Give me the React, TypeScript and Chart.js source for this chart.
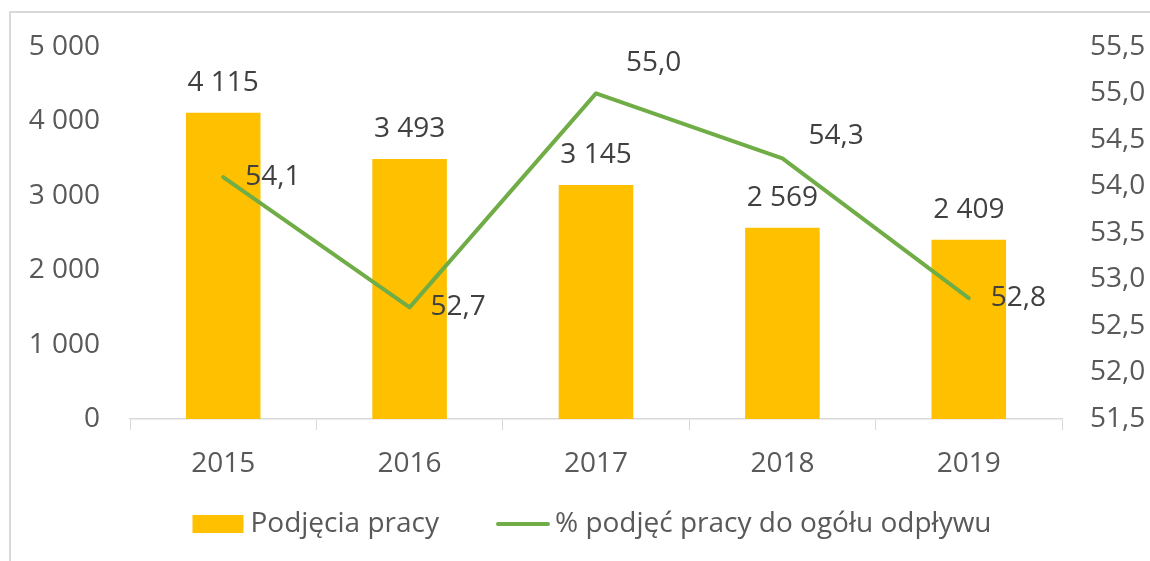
import React, { useEffect, useRef } from "react";
import { Chart, registerables } from "chart.js";

Chart.register(...registerables);

const years = ["2015", "2016", "2017", "2018", "2019"];
const hires = [4115, 3493, 3145, 2569, 2409];
const hiresShare = [54.1, 52.7, 55.0, 54.3, 52.8];
const seriesNames = ["Podjęcia pracy", "% podjęć pracy do ogółu odpływu"];

const FONT = "'Open Sans', 'Noto Sans', sans-serif";
const FS = 28;
const TICK_COLOR = "#595959";
const LABEL_COLOR = "#404040";
const BAR_COLOR = "#FFC000";
const LINE_COLOR = "#70AD47";
const BORDER_COLOR = "#d9d9d9";

// label placement for line labels (dx, dy) relative to points — style only
const lineLabelOffsets: [number, number][] = [
  [22, 0],
  [21, 0],
  [30, -30],
  [26, -22],
  [22, 0],
];

const fmtThousands = (v: number) =>
  String(Math.round(v)).replace(/\B(?=(\d{3})+(?!\d))/g, " ");
const fmtDec = (v: number) => Number(v).toFixed(1).replace(".", ",");

const frame = {
  id: "frame",
  beforeDraw(chart: any) {
    const { ctx, width, height } = chart;
    ctx.save();
    ctx.fillStyle = "#ffffff";
    ctx.fillRect(0, 0, width, height);
    ctx.strokeStyle = BORDER_COLOR;
    ctx.lineWidth = 2;
    ctx.beginPath();
    ctx.moveTo(10, height);
    ctx.lineTo(10, 12);
    ctx.lineTo(width, 12);
    ctx.stroke();
    ctx.restore();
  },
};

const dataLabels = {
  id: "dataLabels",
  afterDatasetsDraw(chart: any) {
    const { ctx } = chart;
    ctx.save();
    ctx.font = `${FS}px ${FONT}`;
    ctx.fillStyle = LABEL_COLOR;
    ctx.textBaseline = "middle";
    const barMeta = chart.getDatasetMeta(0);
    barMeta.data.forEach((el: any, i: number) => {
      ctx.textAlign = "center";
      ctx.fillText(fmtThousands(hires[i]), el.x, el.y - 30);
    });
    const lineMeta = chart.getDatasetMeta(1);
    lineMeta.data.forEach((el: any, i: number) => {
      const [dx, dy] = lineLabelOffsets[i];
      ctx.textAlign = "left";
      ctx.fillText(fmtDec(hiresShare[i]), el.x + dx, el.y + dy);
    });
    ctx.restore();
  },
};

// Bottom legend drawn in canvas (Excel-like spacing)
const excelLegend = {
  id: "excelLegend",
  afterDraw(chart: any) {
    const { ctx, chartArea } = chart;
    ctx.save();
    ctx.font = `${FS}px ${FONT}`;
    ctx.textBaseline = "middle";
    ctx.textAlign = "left";
    const boxW = 51;
    const boxH = 18;
    const lineW = 54;
    const gapBoxText = 7;
    const gapLineText = 5;
    const gapItems = 57;
    const t1 = ctx.measureText(seriesNames[0]).width;
    const t2 = ctx.measureText(seriesNames[1]).width;
    const total = boxW + gapBoxText + t1 + gapItems + lineW + gapLineText + t2;
    const cx = (chartArea.left + chartArea.right) / 2 - 4;
    const cy = chartArea.bottom + 105;
    let x = cx - total / 2;
    ctx.fillStyle = BAR_COLOR;
    ctx.fillRect(x, cy - boxH / 2, boxW, boxH);
    x += boxW + gapBoxText;
    ctx.fillStyle = TICK_COLOR;
    ctx.fillText(seriesNames[0], x, cy);
    x += t1 + gapItems;
    ctx.strokeStyle = LINE_COLOR;
    ctx.lineWidth = 4;
    ctx.lineCap = "round";
    ctx.beginPath();
    ctx.moveTo(x + 2, cy);
    ctx.lineTo(x + lineW - 2, cy);
    ctx.stroke();
    x += lineW + gapLineText;
    ctx.fillText(seriesNames[1], x, cy);
    ctx.restore();
  },
};

export default function App() {
  const ref = useRef<HTMLCanvasElement>(null);

  useEffect(() => {
    document.body.style.margin = "0";
    document.body.style.overflow = "hidden";
    const canvas = ref.current;
    if (!canvas) return;
    const chart = new Chart(canvas, {
      type: "bar",
      data: {
        labels: years,
        datasets: [
          {
            type: "bar",
            label: seriesNames[0],
            data: hires,
            backgroundColor: BAR_COLOR,
            borderWidth: 0,
            yAxisID: "y",
            barPercentage: 0.4,
            categoryPercentage: 1,
            order: 2,
          },
          {
            type: "line",
            label: seriesNames[1],
            data: hiresShare,
            borderColor: LINE_COLOR,
            backgroundColor: LINE_COLOR,
            borderWidth: 4,
            borderCapStyle: "round",
            borderJoinStyle: "round",
            pointRadius: 0,
            pointHoverRadius: 0,
            tension: 0,
            yAxisID: "y1",
            order: 1,
          } as any,
        ],
      },
      options: {
        animation: false,
        responsive: true,
        maintainAspectRatio: false,
        layout: { padding: { top: 45, left: 0, right: 0, bottom: 80 } },
        plugins: {
          tooltip: { enabled: false },
          legend: { display: false },
        },
        scales: {
          x: {
            grid: {
              display: true,
              drawOnChartArea: false,
              drawTicks: true,
              tickLength: 11,
              color: BORDER_COLOR,
              offset: true,
            },
            border: { display: true, color: BORDER_COLOR, width: 1.5 },
            ticks: {
              font: { family: FONT, size: FS },
              color: TICK_COLOR,
              padding: 17,
            },
            afterFit: (s: any) => {
              s.height = 62;
            },
          },
          y: {
            position: "left",
            min: 0,
            max: 5000,
            grid: { display: false, drawTicks: false },
            border: { display: false },
            ticks: {
              stepSize: 1000,
              font: { family: FONT, size: FS },
              color: TICK_COLOR,
              padding: 30,
              callback: (v: any) => fmtThousands(Number(v)),
            },
            afterFit: (s: any) => {
              s.width = 130;
            },
          },
          y1: {
            position: "right",
            min: 51.5,
            max: 55.5,
            grid: { display: false, drawTicks: false },
            border: { display: false },
            ticks: {
              stepSize: 0.5,
              font: { family: FONT, size: FS },
              color: TICK_COLOR,
              padding: 28,
              callback: (v: any) => fmtDec(Number(v)),
            },
            afterFit: (s: any) => {
              s.width = 88;
            },
          },
        },
      },
      plugins: [frame, dataLabels, excelLegend],
    });
    return () => chart.destroy();
  }, []);

  return (
    <div style={{ position: "relative", width: 1150, height: 561 }}>
      <canvas ref={ref} />
    </div>
  );
}
